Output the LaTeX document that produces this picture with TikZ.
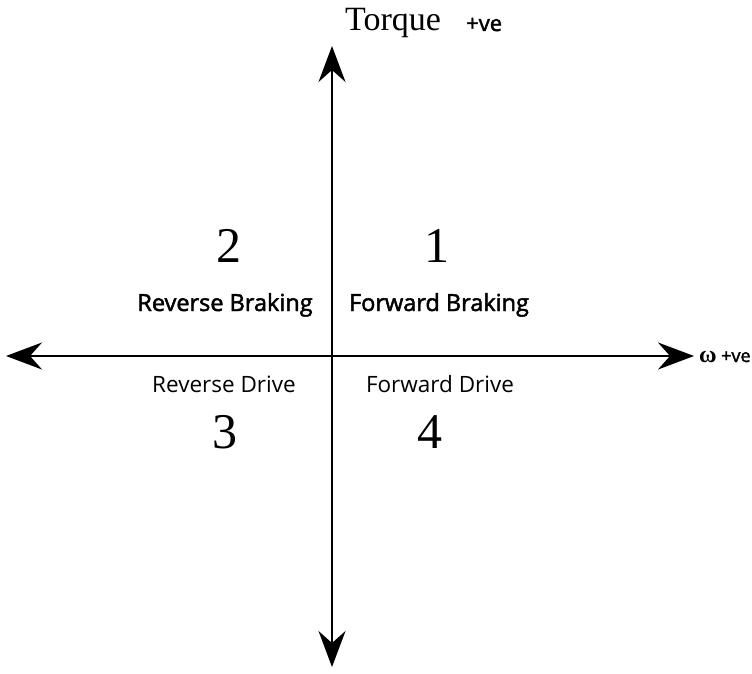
\documentclass[tikz,border=0pt]{standalone}
\usepackage{fontspec}
\setmainfont{Liberation Serif}
\setsansfont{Open Sans}
\newfontfamily\semisans[FakeBold=2]{Open Sans}
\usetikzlibrary{arrows.meta}
\tikzset{
  axis/.style={line width=2pt, -{Stealth[length=36pt,width=27pt,inset=12pt]}},
  bignum/.style={font=\fontsize{50}{50}\selectfont, anchor=base},
  braketxt/.style={font=\semisans\fontsize{23.5}{23.5}\selectfont, anchor=base},
  drivetxt/.style={font=\sffamily\fontsize{22.5}{22.5}\selectfont, anchor=base},
  pve/.style={font=\semisans\fontsize{22}{22}\selectfont, anchor=base west, inner sep=0pt},
  pvesmall/.style={font=\semisans\fontsize{18}{18}\selectfont, anchor=base west, inner sep=0pt}
}
\begin{document}
\begin{tikzpicture}[x=1pt,y=-1pt]
\useasboundingbox (0,0) rectangle (752,674);
\coordinate (O) at (332,356);
\coordinate (top) at (332,46);
\coordinate (bot) at (332,667);
\coordinate (left) at (6,356);
\coordinate (right) at (694,356);
\draw[axis] (O) -- (top);
\draw[axis] (O) -- (bot);
\draw[axis] (O) -- (left);
\draw[axis] (O) -- (right);
\node[anchor=base west, inner sep=0pt, font=\fontsize{34}{34}\selectfont] (torque) at (345,31) {Torque};
\node[pve] (tpve) at (466,31) {+ve};
\node[anchor=base west, inner sep=0pt, font=\bfseries\fontsize{24}{24}\selectfont] (omega) at (699,362) {ω};
\node[pvesmall] (opve) at (721,362) {+ve};
\node[bignum] (n2) at (229,262) {2};
\node[bignum] (n1) at (437,262) {1};
\node[braketxt] (rb) at (225,311) {Reverse Braking};
\node[braketxt] (fb) at (439,311) {Forward Braking};
\node[drivetxt] (rd) at (224,392) {Reverse Drive};
\node[drivetxt] (fd) at (440,392) {Forward Drive};
\node[bignum] (n3) at (225,448) {3};
\node[bignum] (n4) at (430,448) {4};
\end{tikzpicture}
\end{document}
